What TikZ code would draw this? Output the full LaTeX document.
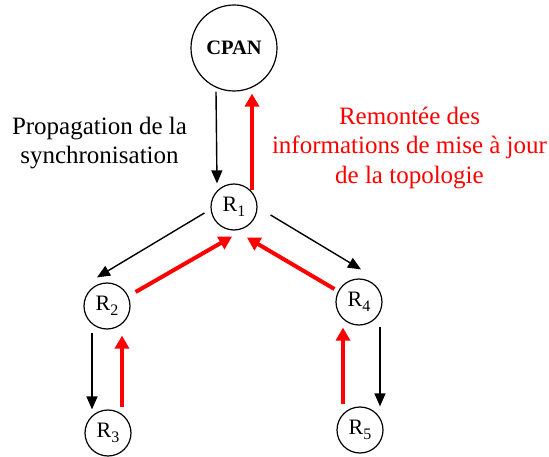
\documentclass[tikz,border=0pt]{standalone}
\usepackage{fontspec}
\setmainfont{Liberation Serif}
\usetikzlibrary{arrows.meta}
\definecolor{myred}{RGB}{255,0,0}
\newcommand{\rsub}[1]{R\raisebox{-5pt}{\fontsize{16}{16}\selectfont #1}}
\tikzset{
  rnode/.style={circle,draw,line width=1.2pt,minimum size=46pt,inner sep=0pt,font=\fontsize{22}{24}\selectfont},
  blk/.style={line width=1.4pt,-{Triangle[length=13pt,width=11pt]}},
  redarr/.style={myred,line width=4pt,-{Triangle[length=13pt,width=14pt]}},
  lbl/.style={align=center,font=\fontsize{25}{29.5}\selectfont}
}
\begin{document}
\begin{tikzpicture}[x=1pt,y=-1pt]
\useasboundingbox (0,0) rectangle (549,457);
\node[rnode,minimum size=86pt,font=\fontsize{20.5}{24}\selectfont\bfseries] (cpan) at (234,48) {CPAN};
\node[rnode] (r1) at (234,207) {\rsub{1}};
\node[rnode] (r2) at (107,306) {\rsub{2}};
\node[rnode] (r3) at (108,433) {\rsub{3}};
\node[rnode] (r4) at (359,302) {\rsub{4}};
\node[rnode] (r5) at (360,430) {\rsub{5}};
\node[lbl] (prop) at (99.5,143) {Propagation de la\\synchronisation};
\node[lbl,text=myred] (rem) at (409.5,148) {Remontée des\\informations de mise à jour\\de la topologie};
% black arrows
\draw[blk] ([xshift=-18pt]cpan.south) -- ([xshift=-17pt]r1.north);
\draw[blk] ([shift={(-6,6)}]r1.west) -- ([shift={(-10,-5)}]r2.north);
\draw[blk] ([shift={(13,8)}]r1.east) -- ([shift={(2,-9)}]r4.north);
\draw[blk] ([shift={(-15,3)}]r2.south) -- ([xshift=-16pt]r3.north);
\draw[blk] ([shift={(21,1)}]r4.south) -- ([xshift=20pt]r5.north);
% red arrows
\draw[redarr] ([shift={(18,7)}]r1.north) -- ([shift={(18,2)}]cpan.south);
\draw[redarr] ([shift={(5,-14)}]r2.east) -- ([shift={(-2,6)}]r1.south);
\draw[redarr] ([shift={(-1,-13)}]r4.west) -- ([shift={(13,7)}]r1.south);
\draw[redarr] ([shift={(14,-2)}]r3.north) -- ([shift={(15,6)}]r2.south);
\draw[redarr] ([shift={(-17,-2)}]r5.north) -- ([shift={(-16,2)}]r4.south);
\end{tikzpicture}
\end{document}
